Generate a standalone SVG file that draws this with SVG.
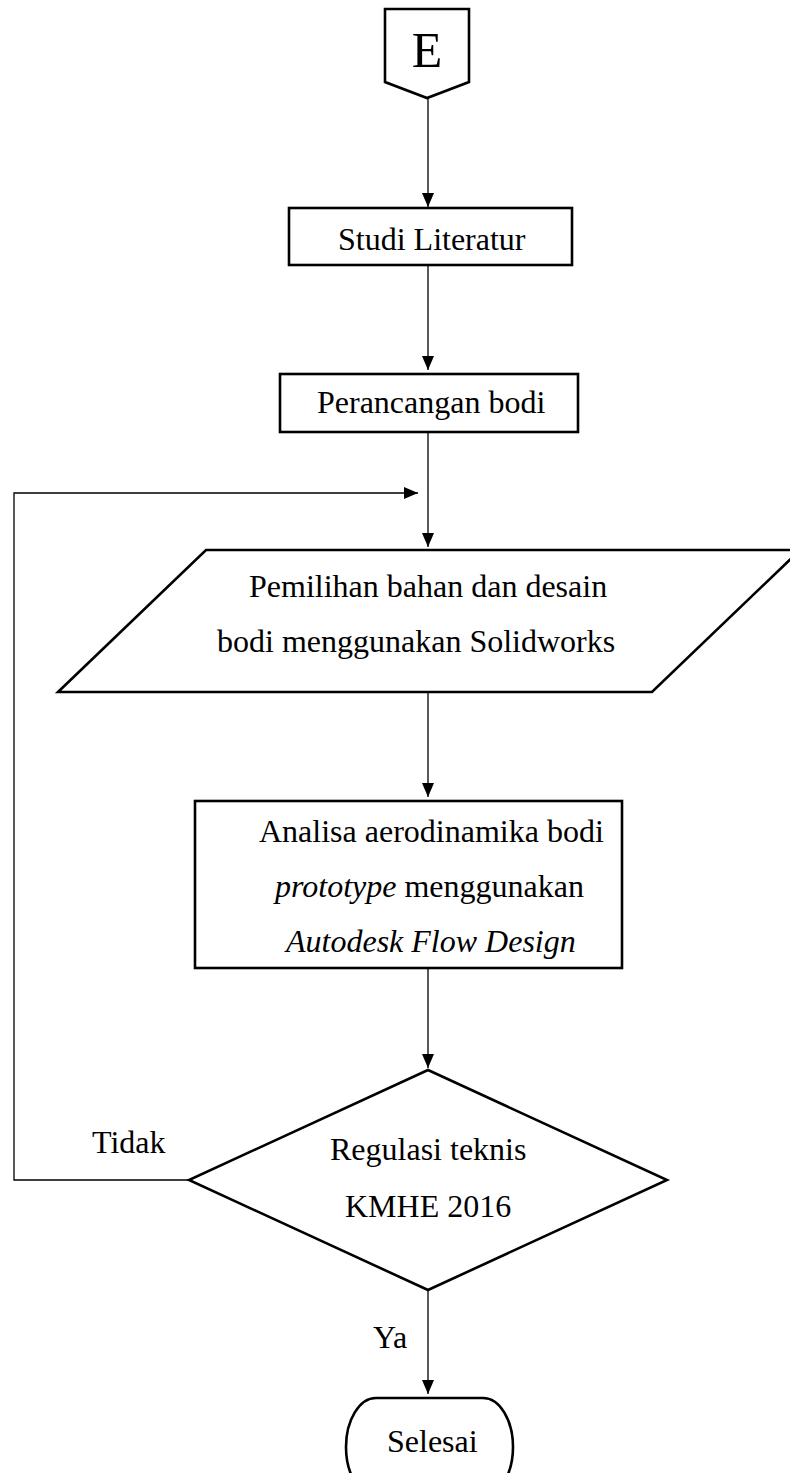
<svg xmlns="http://www.w3.org/2000/svg" width="790" height="1473" viewBox="0 0 790 1473">
  <style>
    .shape { fill: #ffffff; stroke: #000000; stroke-width: 2.6; stroke-linejoin: miter; }
    .link { fill: none; stroke: #000000; stroke-width: 1.3; }
    .label { font-family: "Liberation Serif", "Times New Roman", serif; font-size: 32px; fill: #000000; }
    .it { font-style: italic; }
  </style>
  <defs>
    <marker id="arrow" viewBox="0 0 14 12" refX="14" refY="6" markerWidth="14" markerHeight="12" markerUnits="userSpaceOnUse" orient="auto">
      <path d="M0,0 L14,6 L0,12 Z" fill="#000000"/>
    </marker>
  </defs>
  <rect width="790" height="1473" fill="#ffffff"/>

  <!-- connectors -->
  <g id="connectors">
    <line class="link" x1="428" y1="98" x2="428" y2="207" marker-end="url(#arrow)"/>
    <line class="link" x1="428" y1="266" x2="428" y2="370" marker-end="url(#arrow)"/>
    <line class="link" x1="428" y1="432" x2="428" y2="547" marker-end="url(#arrow)"/>
    <polyline class="link" points="189,1180 14,1180 14,493 418,493" marker-end="url(#arrow)"/>
    <line class="link" x1="428" y1="692" x2="428" y2="797" marker-end="url(#arrow)"/>
    <line class="link" x1="428" y1="968" x2="428" y2="1068" marker-end="url(#arrow)"/>
    <line class="link" x1="428" y1="1290" x2="428" y2="1394" marker-end="url(#arrow)"/>
    <text class="label" x="92" y="1153">Tidak</text>
    <text class="label" x="373" y="1348">Ya</text>
  </g>

  <!-- off-page connector E -->
  <g id="node-e">
    <path class="shape" d="M385,9 H469 V82 L427,98 L385,82 Z"/>
    <text class="label" x="427" y="67" text-anchor="middle" style="font-size:50px">E</text>
  </g>

  <g id="node-studi">
    <rect class="shape" x="289" y="208" width="283" height="57"/>
    <text class="label" x="338" y="250">Studi Literatur</text>
  </g>

  <g id="node-perancangan">
    <rect class="shape" x="280" y="374" width="298" height="58"/>
    <text class="label" x="317" y="413">Perancangan bodi</text>
  </g>

  <g id="node-pemilihan">
    <path class="shape" d="M206,550 H800 L652,692 H58 Z"/>
    <text class="label" x="249" y="597">Pemilihan bahan dan desain</text>
    <text class="label" x="217" y="652">bodi menggunakan Solidworks</text>
  </g>

  <g id="node-analisa">
    <rect class="shape" x="195" y="801" width="427" height="167"/>
    <text class="label" x="259" y="842">Analisa aerodinamika bodi</text>
    <text class="label" x="275" y="897"><tspan class="it">prototype</tspan> menggunakan</text>
    <text class="label it" x="286" y="952">Autodesk Flow Design</text>
  </g>

  <g id="node-regulasi">
    <path class="shape" d="M428,1070 L667,1180 L428,1290 L189,1180 Z"/>
    <text class="label" x="330" y="1160">Regulasi teknis</text>
    <text class="label" x="345" y="1217">KMHE 2016</text>
  </g>

  <g id="node-selesai">
    <path class="shape" d="M376,1398 H483 A30,49 0 0 1 483,1496 H376 A30,49 0 0 1 376,1398 Z"/>
    <text class="label" x="387" y="1452">Selesai</text>
  </g>
</svg>
